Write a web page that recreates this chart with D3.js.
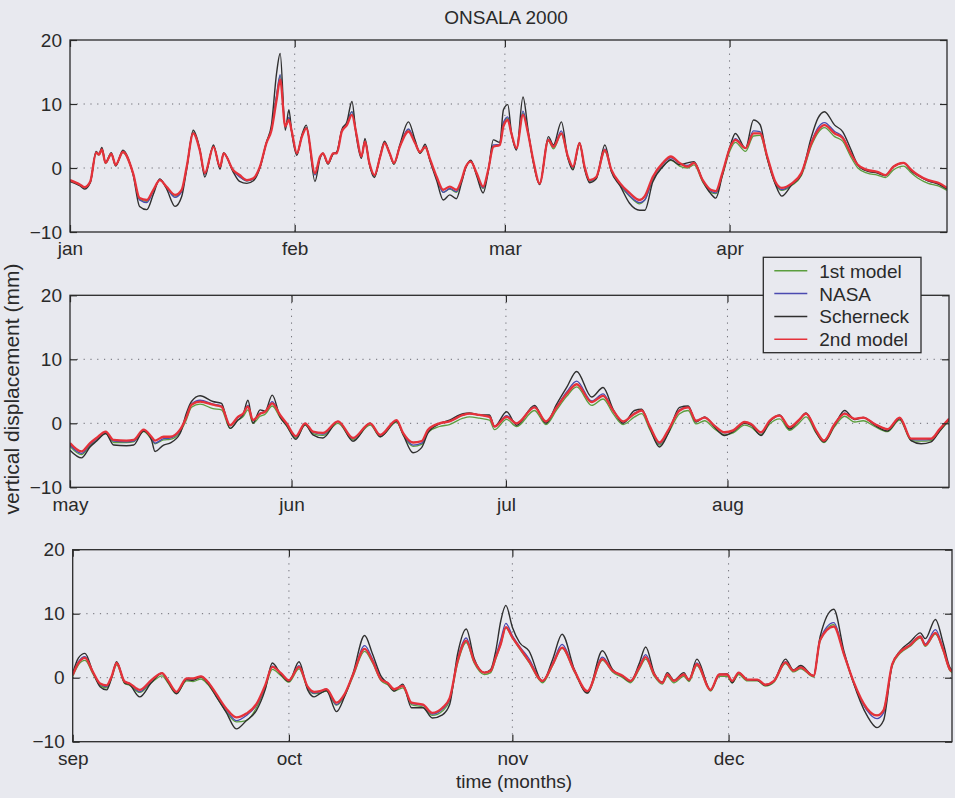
<!DOCTYPE html>
<html>
<head>
<meta charset="utf-8">
<script src="https://cdn.jsdelivr.net/npm/d3@7"></script>
<style>
  html, body { margin: 0; padding: 0; background: #e8e9ef; }
  svg { display: block; }
</style>
</head>
<body>
<svg id="chart" width="955" height="798"></svg>
<script>
// ---- data: vertical displacement (mm) at Onsala, year 2000 ----
const monthLabels = ['jan','feb','mar','apr','may','jun','jul','aug','sep','oct','nov','dec'];
const monthDays   = [31, 29, 31, 30, 31, 30, 31, 31, 30, 31, 30, 31];
const yTicks = [-10, 0, 10, 20];
const yGrid  = [0, 10];
const seriesNames = ['1st model', 'NASA', 'Scherneck', '2nd model'];

// January - April (days since 1 Jan)
const dayJanApr = [
  0,1.4,2,2.8,3.6,4,4.4,4.9,5.7,6.3,
  7.3,8.7,9.6,10.6,11.5,12.4,13.3,14.5,15.4,16.1,
  17,17.9,18.6,19.8,20.7,21.2,22.5,23.4,24.4,25.3,
  26.2,27.1,27.8,28.5,29,29.7,30.2,30.6,31.3,32,
  32.6,33.8,34.5,34.9,35.6,36.3,36.8,37.5,38.2,38.9,
  39.5,40.2,40.7,41.3,42,42.8,43.4,44.1,44.7,45.5,
  46.7,47.6,48.3,49,49.7,50.6,51.5,52.4,53.3,54,
  54.6,55.3,56.1,57,57.7,58.4,59.3,59.8,60.4,60.9,
  61.6,62.5,63.2,63.9,64.8,66,66.7,67.8,68.7,69.4,
  70.3,71,71.7,72.6,73.8,74.7,75.9,77.2,78.6,79.3,
  80.4,81.8,82.9,84.1,85.2,86.1,87.3,88.4,89.1,90,
  91.1,91.8,93.2,94.3,95.2,96.2,97.3,98.2,99.6,100.9,
  102.3,103.2,104.1,105.5,106.6,107.7,108.7,110,111.4,112.5,
  113.6,115,116.1,117,118.4,119.8,121];
const model2JanApr = [
  -1.9,-2.6,-3.0,-2.1,2.4,2.1,2.9,0.8,2.2,0.5,
  2.5,-0.8,-4.7,-5.0,-3.4,-1.9,-2.9,-4.2,-3.4,0.2,
  5.4,2.8,-0.8,3.3,0.2,2.3,-0.3,-1.1,-1.9,-1.6,
  0.2,3.9,5.9,10.6,13.8,6.5,7.5,5.7,2.3,4.9,
  6.2,-0.8,1.8,2.3,0.8,2.3,2.3,5.7,6.7,8.3,
  5.4,1.8,4.1,0.8,-1.1,1.8,3.9,2.3,0.8,3.3,
  5.7,3.9,2.5,3.3,1.3,-1.4,-3.4,-2.9,-3.4,-1.9,
  0.2,1.0,-0.8,-2.9,-0.3,3.3,3.6,6.5,7.5,5.4,
  3.1,8.3,5.4,1.3,-2.4,4.4,3.3,5.4,1.8,0.2,
  3.9,0.2,-1.9,-1.4,2.8,-0.3,-2.4,-3.9,-5.0,-4.4,
  -1.4,0.8,1.8,0.8,0.2,0.8,-1.9,-3.4,-3.6,-0.8,
  3.3,4.4,3.1,5.4,5.4,1.8,-2.1,-3.1,-2.4,-0.8,
  3.9,5.9,6.7,5.4,4.7,2.3,0.5,-0.3,-0.6,-1.1,
  0.2,0.8,-0.3,-1.1,-1.9,-2.3,-3.1];
const scherneckJanApr = [
  -2.1,-2.8,-3.3,-2.3,2.6,2.2,3.2,0.9,2.4,0.3,
  2.8,-1.0,-6.0,-6.5,-4.1,-1.7,-3.2,-6.0,-4.5,-0.2,
  5.9,3.0,-1.4,3.6,-0.2,2.4,-0.6,-2.1,-2.4,-2.0,
  0.0,4.0,6.8,14.8,17.9,5.9,9.1,5.5,2.0,5.2,
  6.7,-2.1,1.5,2.3,0.6,2.2,2.5,6.0,7.2,10.4,
  5.0,1.5,4.6,0.6,-1.5,2.0,4.2,2.3,0.6,3.6,
  7.2,4.4,2.3,3.7,1.0,-2.0,-5.0,-4.2,-4.8,-2.4,
  0.0,1.2,-1.2,-3.9,-0.6,4.4,4.0,9.1,9.9,5.6,
  2.8,11.1,6.0,1.0,-2.6,4.9,3.6,7.2,1.5,-0.3,
  4.0,-0.2,-2.3,-1.7,3.6,-0.6,-2.8,-5.5,-6.6,-6.6,
  -2.2,0.2,1.3,0.5,0.8,1.0,-2.0,-4.0,-4.7,-1.2,
  3.5,5.4,3.1,7.5,6.8,1.5,-2.5,-4.4,-2.6,-1.0,
  4.9,7.8,8.8,6.7,5.7,3.0,0.5,-0.5,-0.8,-1.2,
  0.2,0.8,-0.5,-1.2,-2.0,-2.5,-3.3];
const model1JanApr = [
  -2.0,-2.7,-3.1,-2.2,2.3,2.0,2.8,0.7,2.1,0.4,
  2.4,-0.9,-4.9,-5.2,-3.5,-1.9,-3.0,-4.4,-3.6,0.1,
  5.6,2.9,-0.9,3.4,0.1,2.3,-0.4,-1.3,-2.0,-1.7,
  0.1,4.0,6.1,11.2,14.4,6.6,7.7,5.7,2.3,5.0,
  6.3,-1.0,1.7,2.2,0.7,2.2,2.4,5.8,7.0,8.8,
  5.4,1.8,4.1,0.7,-1.3,1.7,3.9,2.2,0.6,3.3,
  6.0,3.9,2.3,3.2,1.1,-1.6,-3.8,-3.3,-3.8,-2.1,
  0.1,1.0,-1.0,-3.2,-0.4,3.4,3.6,6.9,7.8,5.3,
  3.0,8.6,5.4,1.1,-2.5,4.2,3.0,5.3,1.5,-0.1,
  3.6,0.0,-2.1,-1.6,2.6,-0.5,-2.7,-4.4,-5.6,-5.0,
  -1.9,0.3,1.2,0.3,0.0,0.5,-2.2,-3.8,-4.0,-1.2,
  2.8,4.0,2.6,5.0,5.1,1.4,-2.4,-3.5,-2.7,-1.2,
  3.5,5.5,6.3,4.9,4.2,1.8,0.0,-0.8,-1.1,-1.5,
  -0.3,0.3,-0.8,-1.6,-2.4,-2.8,-3.5];
const nasaJanApr = [
  -2.0,-2.6,-3.1,-2.1,2.4,2.1,3.0,0.8,2.2,0.5,
  2.6,-0.8,-5.0,-5.4,-3.6,-1.8,-3.0,-4.6,-3.7,0.1,
  5.5,2.8,-1.0,3.4,0.1,2.3,-0.4,-1.4,-2.0,-1.7,
  0.1,3.9,6.1,11.4,14.6,6.4,7.9,5.6,2.2,5.0,
  6.3,-1.1,1.7,2.3,0.7,2.3,2.4,5.8,6.9,8.8,
  5.3,1.7,4.2,0.7,-1.2,1.8,4.0,2.3,0.7,3.4,
  6.1,4.0,2.4,3.4,1.2,-1.6,-3.8,-3.2,-3.7,-2.0,
  0.1,1.1,-0.9,-3.1,-0.4,3.6,3.7,7.1,8.0,5.4,
  3.0,8.9,5.5,1.2,-2.5,4.5,3.4,5.8,1.7,0.1,
  3.9,0.1,-2.0,-1.5,3.0,-0.4,-2.5,-4.3,-5.4,-5.0,
  -1.6,0.6,1.6,0.7,0.4,0.8,-1.9,-3.6,-3.9,-0.9,
  3.3,4.6,3.1,5.8,5.7,1.7,-2.2,-3.4,-2.5,-0.9,
  4.1,6.3,7.1,5.7,4.9,2.4,0.4,-0.4,-0.7,-1.1,
  0.2,0.8,-0.4,-1.1,-2.0,-2.4,-3.2];

// May - August (days since 1 May)
const dayMayAug = [
  0,1.6,2.8,3.7,5,6.1,7.9,8.9,10.3,11.4,
  11.9,13.1,14,15.4,16.3,17,18.2,20,21.2,22.4,
  23.5,24.2,24.9,25.6,26.6,27.3,28.3,29.4,30.3,31.6,
  32.9,34,35.4,37.5,39.6,42,43.4,45.7,46.6,48,
  49.2,50.1,51.7,53.1,55,55.9,57.3,58.7,59.4,61.1,
  62.5,65,66.6,68.1,69.5,70.9,73,74.6,76,77.4,
  79,80,81.1,82.5,83.7,85.3,86.5,87.6,88.8,90.2,
  91.6,92.8,94.4,95.3,96.7,97.9,99.3,100.7,101.9,103,
  104.4,105.5,107,108.4,109.8,111,112.6,114.4,116.1,117.7,
  119.1,120.5,121.7,123];
const model2MayAug = [
  -3.1,-4.4,-3.1,-2.3,-1.3,-2.6,-2.7,-2.6,-1.0,-2.1,
  -2.7,-2.1,-2.1,-1.0,1.0,2.9,3.4,2.9,2.6,-0.3,
  1.0,1.5,2.6,0.5,1.5,1.8,3.1,1.3,0.0,-2.0,
  0.0,-1.3,-1.5,0.3,-2.3,0.0,-1.8,0.5,-1.5,-3.0,
  -2.8,-1.0,0.0,0.3,1.3,1.5,1.3,1.0,-0.5,1.0,
  0.0,2.5,0.3,2.5,4.6,6.1,3.3,4.3,2.0,0.3,
  1.5,2.0,-0.4,-3.0,-1.1,2.0,2.5,0.4,0.9,-0.4,
  -1.4,-1.1,0.2,-0.1,-1.4,0.4,1.2,-0.6,0.4,1.5,
  -1.1,-2.7,-0.1,1.5,0.7,0.9,-0.1,-0.9,0.9,-2.4,
  -2.4,-2.4,-0.9,0.7];
const scherneckMayAug = [
  -4.2,-5.4,-3.7,-2.8,-1.6,-3.4,-3.5,-3.4,-1.2,-2.6,
  -4.4,-3.4,-3.1,-1.6,1.6,3.4,4.3,3.4,3.1,-0.8,
  0.5,1.3,3.6,0.0,2.1,1.9,4.4,1.0,-0.3,-2.5,
  -0.2,-1.8,-2.3,0.3,-2.8,0.0,-2.1,0.3,-1.7,-4.6,
  -3.8,-1.5,-0.1,0.5,1.5,1.6,1.3,1.3,-0.5,1.8,
  -0.3,2.8,0.0,3.0,5.6,8.1,4.1,5.6,2.2,0.0,
  2.0,2.2,-0.6,-3.7,-1.6,2.5,2.7,0.2,1.0,-0.6,
  -1.9,-1.3,0.0,-0.3,-1.9,0.2,1.3,-0.9,0.3,1.6,
  -1.4,-2.9,-0.3,2.0,0.6,0.9,-0.3,-1.2,0.7,-2.7,
  -3.2,-2.9,-1.2,0.6];
const model1MayAug = [
  -3.6,-4.9,-3.5,-2.7,-1.6,-3.0,-3.0,-2.9,-1.3,-2.5,
  -3.2,-2.6,-2.5,-1.4,0.6,2.5,3.0,2.3,2.1,-0.8,
  0.5,1.0,2.1,0.0,1.1,1.4,2.7,0.9,-0.4,-2.3,
  -0.3,-1.6,-1.9,0.0,-2.6,-0.3,-2.1,0.2,-1.8,-3.6,
  -3.3,-1.4,-0.5,-0.2,0.8,1.0,0.8,0.5,-1.0,0.6,
  -0.5,2.0,-0.2,2.1,4.2,5.7,2.8,3.8,1.5,-0.2,
  1.0,1.5,-0.9,-3.4,-1.6,1.5,2.0,-0.1,0.4,-0.9,
  -1.8,-1.5,-0.3,-0.6,-1.8,-0.1,0.7,-1.1,-0.1,1.0,
  -1.5,-3.0,-0.5,1.1,0.2,0.4,-0.5,-1.3,0.5,-2.7,
  -2.8,-2.7,-1.2,0.4];
const nasaMayAug = [
  -3.4,-4.7,-3.3,-2.5,-1.4,-2.8,-2.9,-2.8,-1.1,-2.2,
  -3.1,-2.4,-2.3,-1.2,1.1,3.0,3.6,3.0,2.7,-0.4,
  0.9,1.4,2.8,0.4,1.6,1.8,3.4,1.2,-0.1,-2.1,
  0.0,-1.4,-1.7,0.3,-2.4,0.0,-1.9,0.4,-1.6,-3.4,
  -3.1,-1.1,0.0,0.3,1.3,1.5,1.3,1.1,-0.5,1.2,
  0.0,2.6,0.2,2.6,4.9,6.6,3.5,4.6,2.0,0.2,
  1.6,2.0,-0.4,-3.2,-1.2,2.1,2.6,0.4,0.9,-0.4,
  -1.5,-1.1,0.1,-0.1,-1.5,0.3,1.2,-0.7,0.4,1.5,
  -1.2,-2.7,-0.1,1.6,0.7,0.9,-0.1,-0.9,0.9,-2.5,
  -2.6,-2.5,-0.9,0.7];

// September - December (days since 1 Sep)
const daySepDec = [
  0,0.8,1.7,2.8,3.8,4.7,5.4,6.1,7.2,7.9,
  9.3,10.9,12.4,13.2,14.4,15.8,16.7,17.8,18.7,19.9,
  21.3,22.7,24.1,25.5,26.7,27.7,28.9,30,31.4,32.6,
  33.5,34.3,35.2,36.6,37.7,38.9,40.5,41.6,42.8,43.7,
  44.6,45.8,47,48.6,49.9,51.3,52.3,53.4,54.6,55.7,
  57.1,58,58.7,59.4,60.1,61,62,63.3,65.2,66.6,
  67.9,69.6,71.4,73.5,74.9,76.3,77.4,78.6,79.5,80.7,
  81.8,82.5,83.4,84.8,85.5,86.6,88.5,89.7,90.8,91.5,
  92.4,93.6,95,96.1,97.3,98.9,100,101,102.8,103.7,
  105.6,107,108.3,110.2,111.6,112.5,113.7,114.8,116.2,117.6,
  118.3,119.7,120.8,121.7,122];
const model2SepDec = [
  0.4,2.3,3.1,0.9,-0.9,-1.2,0.2,2.3,-0.6,-0.9,
  -1.9,-0.4,0.7,-0.4,-2.2,-0.1,-0.1,0.2,-0.6,-2.5,
  -4.8,-6.2,-5.6,-4.1,-1.2,1.7,0.7,-0.4,1.7,-1.4,
  -2.2,-2.1,-1.8,-3.9,-2.6,0.5,4.5,2.6,-0.3,-0.8,
  -1.8,-1.3,-3.9,-4.2,-5.5,-4.7,-3.2,2.6,5.8,2.6,
  0.8,1.1,3.2,5.3,7.9,6.3,4.7,2.6,-0.5,2.1,
  4.7,1.1,-2.1,2.9,1.1,0.3,-0.5,1.6,3.2,0.5,
  -0.8,0.5,-0.5,0.5,-0.3,2.1,-1.9,0.5,0.5,-0.5,
  0.8,-0.3,-0.3,-1.1,-0.5,2.4,1.1,1.6,0.3,5.9,
  8.0,3.7,-0.5,-4.8,-5.9,-5.1,2.1,4.0,5.1,6.4,
  5.1,7.0,4.3,1.3,1.0];
const scherneckSepDec = [
  0.7,3.1,3.8,0.9,-1.4,-1.9,0.0,2.5,-0.8,-1.1,
  -3.0,-0.8,0.7,-0.6,-2.5,-0.3,-0.4,0.1,-0.8,-2.9,
  -5.4,-8.0,-6.7,-5.1,-1.9,2.3,0.5,-0.6,2.5,-1.9,
  -3.0,-2.5,-2.0,-5.3,-3.0,0.7,6.6,3.7,0.2,-0.9,
  -2.1,-1.0,-4.7,-4.7,-6.3,-5.8,-4.2,3.7,7.6,3.0,
  0.8,1.3,4.2,8.9,11.3,7.9,5.5,4.2,-0.6,2.9,
  6.8,1.3,-2.4,4.2,1.3,0.2,-0.6,2.2,4.8,0.7,
  -0.7,0.8,-0.4,0.8,-0.4,2.9,-1.9,0.5,0.6,-0.8,
  0.8,-0.3,-0.4,-1.2,-0.5,2.9,1.2,1.9,0.3,6.4,
  10.7,4.2,-0.7,-5.9,-7.8,-6.7,2.0,4.2,5.6,7.0,
  6.1,9.1,5.3,1.6,1.2];
const model1SepDec = [
  0.2,2.0,2.7,0.6,-1.2,-1.6,-0.1,2.0,-0.9,-1.2,
  -2.3,-0.8,0.3,-0.8,-2.5,-0.5,-0.6,-0.2,-1.0,-2.9,
  -5.3,-6.9,-6.7,-4.7,-1.7,1.3,0.3,-0.7,1.4,-1.7,
  -2.5,-2.4,-2.1,-4.3,-2.9,0.2,4.1,2.3,-0.5,-1.1,
  -2.1,-1.6,-4.2,-4.6,-5.9,-5.2,-3.6,2.2,5.5,2.3,
  0.5,0.8,2.9,5.2,7.8,6.2,4.5,2.4,-0.8,1.9,
  4.6,0.9,-2.4,2.7,0.9,0.0,-0.8,1.3,2.9,0.2,
  -1.0,0.2,-0.8,0.2,-0.6,1.9,-2.1,0.2,0.2,-0.8,
  0.5,-0.5,-0.5,-1.3,-0.7,2.2,0.9,1.4,0.1,5.7,
  8.3,3.6,-0.7,-5.0,-5.9,-5.0,1.8,3.8,4.9,6.2,
  4.9,6.8,4.1,1.1,0.8];
const nasaSepDec = [
  0.5,2.5,3.3,0.9,-1.0,-1.4,0.1,2.4,-0.6,-0.9,
  -2.2,-0.5,0.7,-0.4,-2.3,-0.1,-0.2,0.2,-0.6,-2.6,
  -5.0,-6.7,-5.9,-4.3,-1.4,1.8,0.6,-0.4,1.9,-1.5,
  -2.4,-2.2,-1.8,-4.2,-2.7,0.5,5.0,2.9,-0.2,-0.8,
  -1.9,-1.2,-4.0,-4.3,-5.7,-4.9,-3.4,2.9,6.2,2.7,
  0.8,1.1,3.4,6.0,8.5,6.6,4.9,3.0,-0.5,2.3,
  5.2,1.2,-2.2,3.2,1.1,0.3,-0.5,1.7,3.6,0.5,
  -0.8,0.5,-0.5,0.5,-0.3,2.3,-1.9,0.5,0.5,-0.6,
  0.8,-0.3,-0.3,-1.1,-0.5,2.5,1.1,1.7,0.3,6.0,
  8.6,3.8,-0.5,-5.1,-6.4,-5.5,2.1,4.0,5.2,6.5,
  5.3,7.5,4.5,1.3,1.0];

// ---- four-month blocks, one panel each ----
const blocks = [
  { months: [0, 1, 2, 3],   day: dayJanApr, values: [model1JanApr, nasaJanApr, scherneckJanApr, model2JanApr] },
  { months: [4, 5, 6, 7],   day: dayMayAug, values: [model1MayAug, nasaMayAug, scherneckMayAug, model2MayAug] },
  { months: [8, 9, 10, 11], day: daySepDec, values: [model1SepDec, nasaSepDec, scherneckSepDec, model2SepDec] }
];

// ---- layout and styling ----
const frames = [
  { left: 70,   right: 947, top: 40,    bottom: 232 },
  { left: 70,   right: 949, top: 295.3, bottom: 487.3 },
  { left: 72.7, right: 952, top: 549.7, bottom: 741.7 }
];
const lineColors = ['#5b9e3e', '#4a4ab0', '#2f2f2f', '#e5323a'];
const lineWidths = [1.3, 1.3, 1.4, 2.3];
const FONT = "'Liberation Sans', Arial, Helvetica, sans-serif";
const INK = '#2a2a2a';
const BG = '#e8e9ef';

const svg = d3.select('#chart');
svg.append('rect').attr('width', 955).attr('height', 798).attr('fill', BG);

function styleAxis(g) {
  g.select('.domain').remove();
  g.selectAll('line').attr('stroke', INK).attr('stroke-width', 1.2);
  g.selectAll('text').attr('font-family', FONT).attr('font-size', 19).attr('fill', INK);
}

blocks.forEach((b, i) => {
  const f = frames[i];
  const first = b.months[0];
  const starts = b.months.map(m => d3.sum(monthDays.slice(first, m)));
  const span = d3.sum(b.months.map(m => monthDays[m]));

  const x = d3.scaleLinear().domain([0, span]).range([f.left, f.right]);
  const y = d3.scaleLinear().domain([-10, 20]).range([f.bottom, f.top]);
  const g = svg.append('g');

  // dotted grid
  g.selectAll('line.hgrid').data(yGrid).join('line')
    .attr('class', 'hgrid')
    .attr('x1', f.left).attr('x2', f.right)
    .attr('y1', d => y(d)).attr('y2', d => y(d))
    .attr('stroke', '#6a6a72').attr('stroke-width', 1)
    .attr('stroke-dasharray', '1.2,5.6');
  g.selectAll('line.vgrid').data(starts.slice(1)).join('line')
    .attr('class', 'vgrid')
    .attr('x1', d => x(d)).attr('x2', d => x(d))
    .attr('y1', f.top).attr('y2', f.bottom)
    .attr('stroke', '#6a6a72').attr('stroke-width', 1)
    .attr('stroke-dasharray', '1.2,5.6');

  // series
  const clipId = 'clip' + i;
  g.append('clipPath').attr('id', clipId).append('rect')
    .attr('x', f.left).attr('y', f.top)
    .attr('width', f.right - f.left).attr('height', f.bottom - f.top);
  const line = d3.line().curve(d3.curveMonotoneX).x(d => x(d[0])).y(d => y(d[1]));
  b.values.forEach((vals, k) => {
    const pts = b.day.map((d, j) => [d, vals[j]]);
    g.append('path')
      .attr('d', line(pts))
      .attr('fill', 'none')
      .attr('stroke', lineColors[k])
      .attr('stroke-width', lineWidths[k])
      .attr('stroke-linejoin', 'round')
      .attr('clip-path', `url(#${clipId})`);
  });

  // axes (inward ticks)
  g.append('g').attr('transform', `translate(${f.left},0)`)
    .call(d3.axisLeft(y).tickValues(yTicks).tickSize(-7).tickPadding(8).tickFormat(d3.format('d')))
    .call(styleAxis);
  g.append('g').attr('transform', `translate(${f.right},0)`)
    .call(d3.axisRight(y).tickValues(yTicks).tickSize(-7).tickFormat(''))
    .call(styleAxis);
  g.append('g').attr('transform', `translate(0,${f.bottom})`)
    .call(d3.axisBottom(x).tickValues(starts).tickSize(-7).tickPadding(10)
      .tickFormat((d, k) => monthLabels[b.months[k]]))
    .call(styleAxis);
  g.append('g').attr('transform', `translate(0,${f.top})`)
    .call(d3.axisTop(x).tickValues(starts).tickSize(-7).tickFormat(''))
    .call(styleAxis);

  // frame
  g.append('rect')
    .attr('x', f.left).attr('y', f.top)
    .attr('width', f.right - f.left).attr('height', f.bottom - f.top)
    .attr('fill', 'none').attr('stroke', INK).attr('stroke-width', 1.3);
});

// title and axis titles
svg.append('text').attr('x', 506).attr('y', 24).attr('text-anchor', 'middle')
  .attr('font-family', FONT).attr('font-size', 19).attr('fill', INK).text('ONSALA 2000');
svg.append('text').attr('x', 514).attr('y', 788).attr('text-anchor', 'middle')
  .attr('font-family', FONT).attr('font-size', 19).attr('fill', INK).text('time (months)');
svg.append('text').attr('transform', 'translate(19,389) rotate(-90)').attr('text-anchor', 'middle')
  .attr('font-family', FONT).attr('font-size', 21).attr('fill', INK).text('vertical displacement (mm)');

// legend
const lg = svg.append('g').attr('transform', 'translate(763.3,257.3)');
lg.append('rect').attr('width', 157.7).attr('height', 95.4)
  .attr('fill', BG).attr('stroke', INK).attr('stroke-width', 1.3);
seriesNames.forEach((name, k) => {
  const yy = 13.5 + k * 22.8;
  lg.append('line').attr('x1', 11).attr('x2', 44).attr('y1', yy).attr('y2', yy)
    .attr('stroke', lineColors[k]).attr('stroke-width', 1.5);
  lg.append('text').attr('x', 56).attr('y', yy + 7)
    .attr('font-family', FONT).attr('font-size', 19).attr('fill', INK).text(name);
});
</script>
</body>
</html>
